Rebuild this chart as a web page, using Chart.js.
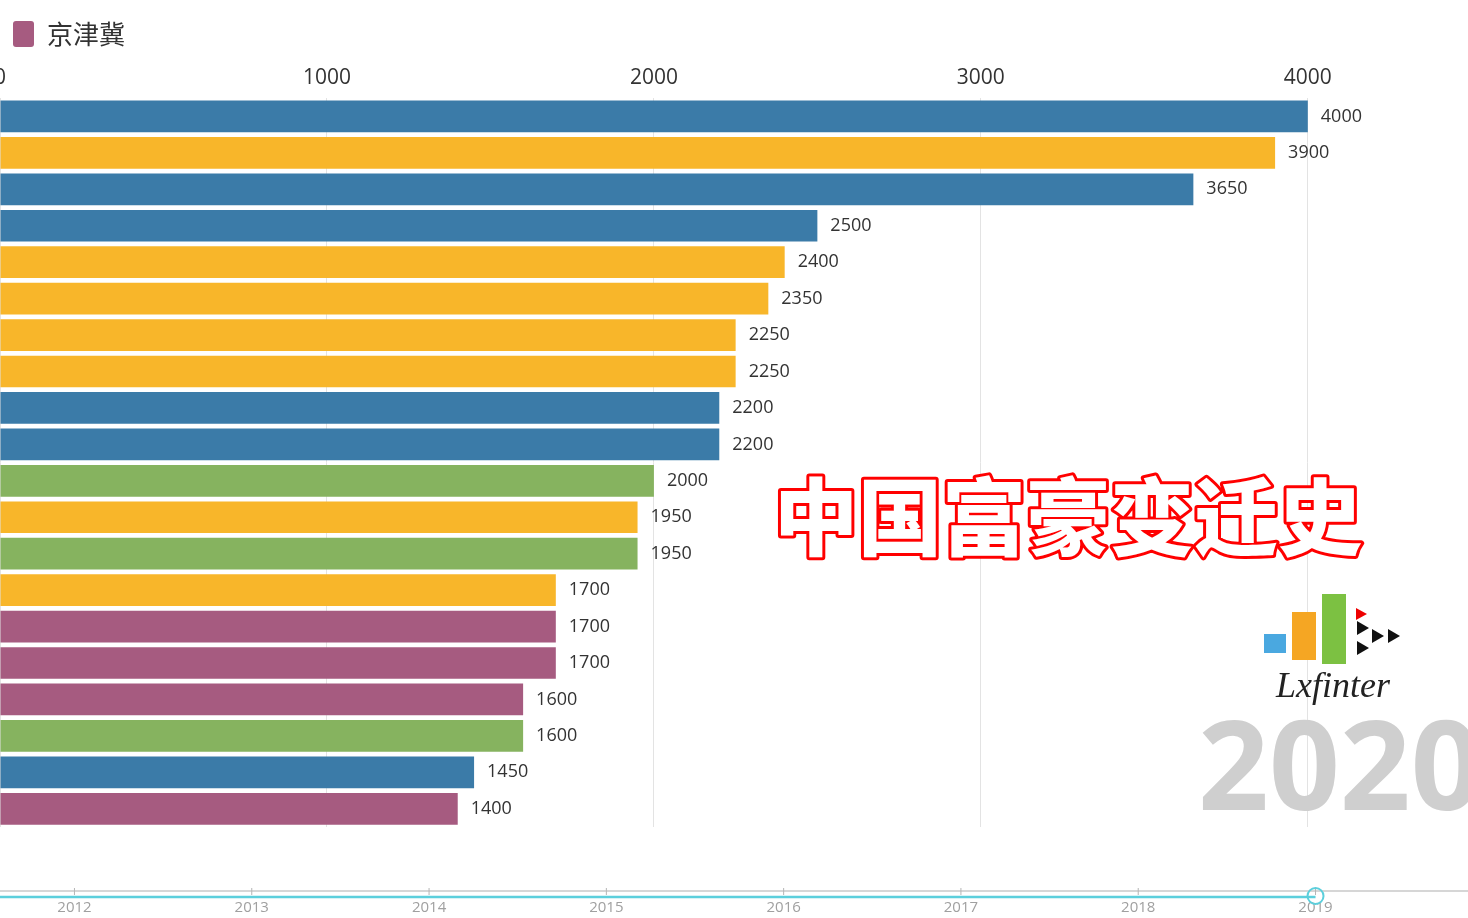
<!DOCTYPE html>
<html>
<head>
<meta charset="utf-8">
<script src="https://cdn.jsdelivr.net/npm/chart.js@4.4.1/dist/chart.umd.min.js"></script>
<style>
html,body{margin:0;padding:0;background:#fff;overflow:hidden;}
</style>
</head>
<body>
<canvas id="chart" width="1468" height="918"></canvas>
<script>
// rangs (noms masqués, hors cadre à gauche)
const rangs = ['1','2','3','4','5','6','7','8','9','10','11','12','13','14','15','16','17','18','19','20'];
// fortune
const valeurs = [4000,3900,3650,2500,2400,2350,2250,2250,2200,2200,2000,1950,1950,1700,1700,1700,1600,1600,1450,1400];
// région de chaque barre
const regions = ['b','y','b','b','y','y','y','y','b','b','g','y','g','y','p','p','p','g','b','p'];
const couleursRegion = {b:'#3b7ba8', y:'#f8b62a', g:'#86b35f', p:'#a65b80'};
const ticksX = [0,1000,2000,3000,4000];
// frise chronologique
const annees = [2012,2013,2014,2015,2016,2017,2018,2019,2020];
const anneeCourante = 2019;
const titre = '中国富豪变迁史';
const grandeAnnee = '2020';
const legende = '京津冀';

////////////

var ctx = document.getElementById('chart').getContext('2d');

// étiquettes de valeur au bout des barres
const pluginValeurs = {
    id: 'valeurs',
    afterDatasetsDraw(chart){
        const c = chart.ctx;
        const meta = chart.getDatasetMeta(0);
        c.save();
        c.font = '18px "Open Sans"';
        c.fillStyle = '#333';
        c.textBaseline = 'middle';
        c.textAlign = 'left';
        meta.data.forEach((bar, i) => {
            c.fillText(String(valeurs[i]), bar.x + 13, bar.y);
        });
        c.restore();
    }
};

// titre, logo, année, frise
const pluginDeco = {
    id: 'deco',
    afterDraw(chart){
        const c = chart.ctx;
        c.save();
        // titre
        c.font = '900 84px "Noto Sans CJK SC"';
        c.textAlign = 'center';
        c.textBaseline = 'middle';
        c.lineJoin = 'round';
        c.lineWidth = 6;
        c.strokeStyle = '#ff0000';
        c.strokeText(titre, 1068, 517);
        c.fillStyle = '#fff';
        c.fillText(titre, 1068, 517);

        // grande année
        c.font = 'bold 124px "Open Sans"';
        c.textAlign = 'left';
        c.textBaseline = 'alphabetic';
        c.fillStyle = '#cfcfcf';
        c.fillText(grandeAnnee, 1198, 810);

        // logo
        c.fillStyle = '#4aa8e0';
        c.fillRect(1264, 634, 22, 19);
        c.fillStyle = '#f5a623';
        c.fillRect(1292, 612, 24, 48);
        c.fillStyle = '#7cc142';
        c.fillRect(1322, 594, 24, 70);
        c.fillStyle = '#111';
        [[1357,628],[1372,636],[1357,648],[1388,636]].forEach(p => {
            c.beginPath();
            c.moveTo(p[0], p[1]-7); c.lineTo(p[0]+12, p[1]); c.lineTo(p[0], p[1]+7);
            c.closePath(); c.fill();
        });
        c.fillStyle = '#e00';
        c.beginPath(); c.moveTo(1356,608); c.lineTo(1367,614); c.lineTo(1356,620); c.closePath(); c.fill();
        c.font = 'italic 36px "Liberation Serif"';
        c.fillStyle = '#222';
        c.textAlign = 'center';
        c.fillText('Lxfinter', 1333, 697);

        // frise
        const s = chart.scales.an;
        c.strokeStyle = '#c9c9c9';
        c.lineWidth = 1.5;
        c.beginPath(); c.moveTo(0, 891); c.lineTo(chart.width, 891); c.stroke();
        const xc = s.getPixelForValue(anneeCourante);
        c.strokeStyle = '#5ccfdc';
        c.lineWidth = 2.5;
        c.beginPath(); c.moveTo(0, 897); c.lineTo(xc, 897); c.stroke();
        c.font = '15px "Liberation Sans Narrow", "Open Sans"';
        c.textAlign = 'center';
        c.textBaseline = 'middle';
        annees.forEach(a => {
            const x = s.getPixelForValue(a);
            c.strokeStyle = '#b5b5b5';
            c.lineWidth = 1;
            c.beginPath(); c.moveTo(x, 888); c.lineTo(x, 895); c.stroke();
            c.fillStyle = '#a0a0a0';
            c.fillText(String(a), x, 908);
        });
        c.strokeStyle = '#5ccfdc';
        c.lineWidth = 2;
        c.beginPath(); c.arc(xc, 896, 8, 0, Math.PI*2); c.stroke();
        c.restore();
    }
};

var myChart = new Chart(ctx, {
    type: 'bar'
    , data: {
        labels: rangs,
        datasets: [{
            label: legende,
            data: valeurs,
            backgroundColor: regions.map(r => couleursRegion[r]),
            borderWidth: 0,
            categoryPercentage: 0.87,
            barPercentage: 1
        }]
    }
    , options: {
        indexAxis: 'y'
        ,responsive: false
        ,animation: false
        ,layout: { padding: { left: 0, right: 0, top: 8, bottom: 91 } }
        ,scales: {
            x: {
                position: 'top',
                min: 0,
                max: 4490,
                grid: { color: '#e3e3e3', drawTicks: false },
                border: { display: false },
                ticks: {
                    font: { family: 'Open Sans', size: 21 }, color: '#333', padding: 8,
                    callback: (v) => String(v)
                },
                afterBuildTicks: (scale) => { scale.ticks = ticksX.map(v => ({ value: v })); },
                afterFit: (scale) => { scale.paddingLeft = 0; scale.paddingRight = 0; }
            },
            y: { display: false },
            an: {
                type: 'linear', axis: 'x', display: false,
                min: 2011.58, max: 2019.86
            }
        }
        ,plugins: {
            legend: {
                display: true,
                position: 'top',
                align: 'start',
                labels: {
                    boxWidth: 21,
                    boxHeight: 26,
                    padding: 13,
                    useBorderRadius: true,
                    borderRadius: 3,
                    color: '#333',
                    font: { family: 'Noto Sans CJK SC', size: 26 },
                    generateLabels: () => [{
                        text: legende,
                        fillStyle: couleursRegion.p,
                        strokeStyle: couleursRegion.p,
                        lineWidth: 0,
                        fontColor: '#333',
                        borderRadius: 3,
                        datasetIndex: 0
                    }]
                }
            },
            tooltip: { enabled: false }
        }
    }
    , plugins: [pluginValeurs, pluginDeco]
});
</script>
</body>
</html>
